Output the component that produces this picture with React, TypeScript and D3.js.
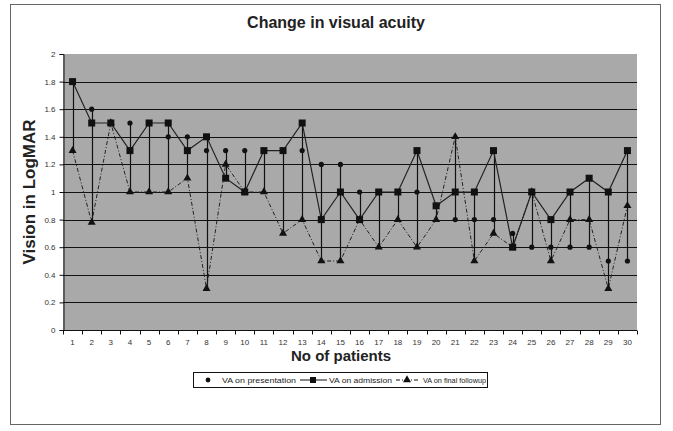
import React, { useEffect, useRef } from "react";
import * as d3 from "d3";

const patients = d3.range(1, 31).map(String);
const presentation = [1.8, 1.6, 1.5, 1.5, 1.5, 1.4, 1.4, 1.3, 1.3, 1.3, 1.3, 1.3, 1.3, 1.2, 1.2, 1.0, 1.0, 1.0, 1.0, 0.9, 0.8, 0.8, 0.8, 0.7, 0.6, 0.6, 0.6, 0.6, 0.5, 0.5];
const admission = [1.8, 1.5, 1.5, 1.3, 1.5, 1.5, 1.3, 1.4, 1.1, 1.0, 1.3, 1.3, 1.5, 0.8, 1.0, 0.8, 1.0, 1.0, 1.3, 0.9, 1.0, 1.0, 1.3, 0.6, 1.0, 0.8, 1.0, 1.1, 1.0, 1.3];
const finalFollowup = [1.3, 0.78, 1.5, 1.0, 1.0, 1.0, 1.1, 0.3, 1.2, 1.0, 1.0, 0.7, 0.8, 0.5, 0.5, 0.8, 0.6, 0.8, 0.6, 0.8, 1.4, 0.5, 0.7, 0.6, 1.0, 0.5, 0.8, 0.8, 0.3, 0.9];
const yTicks = [0, 0.2, 0.4, 0.6, 0.8, 1, 1.2, 1.4, 1.6, 1.8, 2];

const W = 673;
const H = 431;

const App: React.FC = () => {
  const ref = useRef<SVGSVGElement | null>(null);

  useEffect(() => {
    if (!ref.current) return;
    const svg = d3.select(ref.current);
    svg.selectAll("*").remove();

    const font = "Arial, Liberation Sans, sans-serif";
    const plot = { left: 63, right: 637, top: 54, bottom: 330 };
    const x = d3.scaleBand<string>().domain(patients).range([plot.left, plot.right]);
    const y = d3.scaleLinear().domain([0, 2]).range([plot.bottom, plot.top]);
    const cx = (i: number) => (x(patients[i]) as number) + x.bandwidth() / 2;

    // outer frame
    svg.append("rect").attr("x", 10.5).attr("y", 4.5).attr("width", 650).attr("height", 420)
      .attr("fill", "white").attr("stroke", "#666").attr("stroke-width", 1);

    // plot area
    svg.append("rect").attr("x", plot.left).attr("y", plot.top)
      .attr("width", plot.right - plot.left).attr("height", plot.bottom - plot.top)
      .attr("fill", "#a9a9a9");

    // gridlines
    svg.append("g").selectAll("line").data(yTicks.slice(1, -1)).join("line")
      .attr("x1", plot.left).attr("x2", plot.right)
      .attr("y1", (d) => Math.round(y(d)) + 0.5).attr("y2", (d) => Math.round(y(d)) + 0.5)
      .attr("stroke", "#111").attr("stroke-width", 1);

    // y axis
    const yAxis = svg.append("g").attr("transform", `translate(${plot.left + 0.5},0)`)
      .call(d3.axisLeft(y).tickValues(yTicks).tickSize(4).tickPadding(4).tickFormat((d) => String(d)));
    yAxis.select(".domain").attr("stroke", "#111");
    yAxis.selectAll("line").attr("stroke", "#111");
    yAxis.selectAll("text").attr("font-family", font).attr("font-size", 8).attr("fill", "#333");

    // x axis
    const xAxisG = svg.append("g").attr("transform", `translate(0,${plot.bottom + 0.5})`);
    xAxisG.append("line").attr("x1", plot.left).attr("x2", plot.right).attr("stroke", "#111");
    const bounds = patients.map((p) => x(p) as number).concat([plot.right]);
    xAxisG.selectAll("line.tick").data(bounds).join("line").attr("class", "tick")
      .attr("x1", (d) => Math.round(d) + 0.5).attr("x2", (d) => Math.round(d) + 0.5)
      .attr("y1", 0).attr("y2", 4).attr("stroke", "#111");
    xAxisG.selectAll("text").data(patients).join("text")
      .attr("x", (_, i) => cx(i)).attr("y", 14).attr("text-anchor", "middle")
      .attr("font-family", font).attr("font-size", 8).attr("fill", "#333")
      .text((d) => d);

    // high-low lines
    svg.append("g").selectAll("line").data(patients).join("line")
      .attr("x1", (_, i) => Math.round(cx(i)) + 0.5).attr("x2", (_, i) => Math.round(cx(i)) + 0.5)
      .attr("y1", (_, i) => y(Math.max(presentation[i], admission[i], finalFollowup[i])))
      .attr("y2", (_, i) => y(Math.min(presentation[i], admission[i], finalFollowup[i])))
      .attr("stroke", "#111").attr("stroke-width", 1.2);

    const line = d3.line<number>().x((_, i) => cx(i)).y((d) => y(d));

    // final followup: dash-dot line with triangles
    svg.append("path").datum(finalFollowup).attr("d", line).attr("fill", "none")
      .attr("stroke", "#222").attr("stroke-width", 1).attr("stroke-dasharray", "4,2,1,2");

    // admission: solid line with squares
    svg.append("path").datum(admission).attr("d", line).attr("fill", "none")
      .attr("stroke", "#222").attr("stroke-width", 1.2);

    const tri = d3.symbol().type(d3.symbolTriangle).size(28);
    svg.append("g").selectAll("path").data(finalFollowup).join("path")
      .attr("d", tri).attr("transform", (d, i) => `translate(${cx(i)},${y(d)})`).attr("fill", "#111");

    svg.append("g").selectAll("rect").data(admission).join("rect")
      .attr("x", (_, i) => cx(i) - 3.5).attr("y", (d) => y(d) - 3.5)
      .attr("width", 7).attr("height", 7).attr("fill", "#111");

    svg.append("g").selectAll("circle").data(presentation).join("circle")
      .attr("cx", (_, i) => cx(i)).attr("cy", (d) => y(d)).attr("r", 2.6).attr("fill", "#111");

    // titles
    svg.append("text").attr("x", 336).attr("y", 28).attr("text-anchor", "middle")
      .attr("font-family", font).attr("font-weight", "bold").attr("font-size", 16).attr("fill", "#222")
      .text("Change in visual acuity");
    svg.append("text").attr("transform", `translate(35,${(plot.top + plot.bottom) / 2}) rotate(-90)`)
      .attr("text-anchor", "middle").attr("font-family", font).attr("font-weight", "bold")
      .attr("font-size", 17).attr("fill", "#222").text("Vision in LogMAR");
    svg.append("text").attr("x", 341).attr("y", 361).attr("text-anchor", "middle")
      .attr("font-family", font).attr("font-weight", "bold").attr("font-size", 15).attr("fill", "#222")
      .text("No of patients");

    // legend
    const lg = svg.append("g").attr("font-family", font).attr("font-size", 8).attr("fill", "#222");
    lg.append("rect").attr("x", 193.5).attr("y", 372.5).attr("width", 294).attr("height", 15)
      .attr("fill", "white").attr("stroke", "#111");
    const ly = 380;
    lg.append("circle").attr("cx", 208).attr("cy", ly).attr("r", 2.4).attr("fill", "#111");
    lg.append("text").attr("x", 222).attr("y", ly + 3).attr("textLength", 74)
      .attr("lengthAdjust", "spacingAndGlyphs").text("VA on presentation");
    lg.append("line").attr("x1", 300).attr("x2", 327).attr("y1", ly).attr("y2", ly).attr("stroke", "#111");
    lg.append("rect").attr("x", 310).attr("y", ly - 3).attr("width", 6).attr("height", 6).attr("fill", "#111");
    lg.append("text").attr("x", 329).attr("y", ly + 3).attr("textLength", 63)
      .attr("lengthAdjust", "spacingAndGlyphs").text("VA on admission");
    lg.append("line").attr("x1", 396).attr("x2", 418).attr("y1", ly).attr("y2", ly)
      .attr("stroke", "#111").attr("stroke-dasharray", "4,2,1,2");
    lg.append("path").attr("d", tri).attr("transform", `translate(407,${ly})`).attr("fill", "#111");
    lg.append("text").attr("x", 423).attr("y", ly + 3).attr("textLength", 63)
      .attr("lengthAdjust", "spacingAndGlyphs").text("VA on final followup");
  }, []);

  return (
    <svg ref={ref} width={W} height={H} style={{ position: "absolute", left: 0, top: 0, background: "white" }} />
  );
};

export default App;
